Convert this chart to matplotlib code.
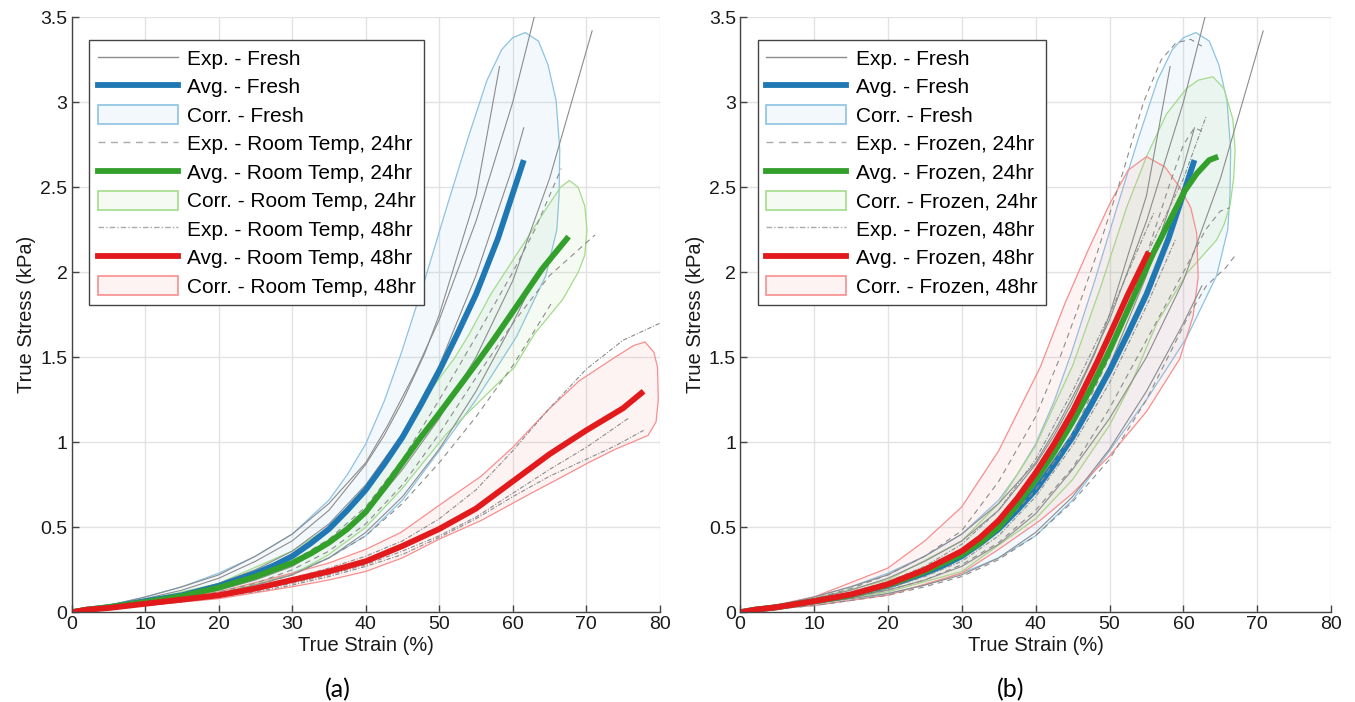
import matplotlib
matplotlib.use('Agg')
import matplotlib.pyplot as plt
from matplotlib.colors import to_rgba
from matplotlib.lines import Line2D
from matplotlib.patches import Patch

plt.rcParams['font.family'] = ['Liberation Sans', 'DejaVu Sans']

# ---------------- data ----------------
# experimental curves, fresh (shown in both panels)
exp_fresh = [
    ([0, 5, 10, 15, 20, 25, 30, 35, 40, 42.5, 45, 48, 50, 55, 58.2],
     [0, 0.035, 0.08, 0.13, 0.20, 0.30, 0.42, 0.60, 0.87, 1.04, 1.24, 1.52, 1.75, 2.45, 3.21]),
    ([0, 5, 10, 15, 20, 25, 30, 35, 40, 43, 46.6, 50, 55, 60, 63.5],
     [0, 0.04, 0.09, 0.15, 0.22, 0.33, 0.46, 0.64, 0.88, 1.10, 1.40, 1.72, 2.3, 3.0, 3.6]),
    ([0, 5, 10, 15, 20, 25, 30, 35, 40, 45, 50, 55, 60, 65, 70.8],
     [0, 0.03, 0.06, 0.09, 0.13, 0.19, 0.27, 0.40, 0.58, 0.84, 1.14, 1.50, 1.95, 2.55, 3.42]),
    ([0, 5, 10, 15, 20, 25, 30, 35, 40, 45, 50, 55, 60, 61.5],
     [0, 0.035, 0.07, 0.11, 0.17, 0.25, 0.36, 0.52, 0.75, 1.05, 1.45, 1.98, 2.62, 2.85]),
    ([0, 5, 10, 15, 20, 25, 30, 35, 40, 45, 50, 55, 60, 62.5],
     [0, 0.025, 0.05, 0.08, 0.11, 0.16, 0.22, 0.32, 0.47, 0.68, 0.96, 1.30, 1.70, 1.92]),
]
avg_fresh_x = [0, 2, 5, 10, 15, 20, 25, 27.5, 30, 32.5, 35, 37.5, 40, 42.5, 45, 47.5, 50, 52.5, 55, 58, 61.5]
avg_fresh_y = [0, 0.015, 0.03, 0.065, 0.10, 0.155, 0.23, 0.275, 0.33, 0.405, 0.49, 0.60, 0.72, 0.87, 1.03,
               1.22, 1.42, 1.64, 1.87, 2.2, 2.66]
corr_fresh_up_x = [0, 5, 10, 15, 20, 25, 30, 35, 37.5, 40, 42.5, 44.8, 48, 51, 54, 56.5, 58.5, 60, 61.7,
                   63.5, 64.8, 65.9, 66.4, 66.3, 66.0]
corr_fresh_up_y = [0, 0.04, 0.09, 0.15, 0.23, 0.33, 0.46, 0.66, 0.81, 0.99, 1.24, 1.52, 1.95, 2.38, 2.8, 3.13,
                   3.31, 3.38, 3.41, 3.36, 3.22, 3.01, 2.72, 2.45, 2.25]
corr_fresh_lo_x = [0, 5, 10, 15, 20, 25, 30, 35, 40, 45, 50, 55, 58, 60.5, 62.5, 64.5, 66.0]
corr_fresh_lo_y = [0, 0.02, 0.04, 0.07, 0.11, 0.16, 0.23, 0.32, 0.45, 0.66, 0.95, 1.25, 1.45, 1.62, 1.80, 1.98, 2.25]

# (a) room temperature, 24 hr
exp_rt24 = [
    ([0, 5, 10, 15, 20, 25, 30, 35, 40, 45, 50, 55, 60, 63, 66.6],
     [0, 0.03, 0.06, 0.10, 0.14, 0.21, 0.30, 0.43, 0.62, 0.90, 1.25, 1.62, 2.0, 2.25, 2.61]),
    ([0, 5, 10, 15, 20, 25, 30, 35, 40, 45, 50, 55, 60, 65, 71.2],
     [0, 0.025, 0.05, 0.08, 0.12, 0.17, 0.25, 0.36, 0.52, 0.75, 1.05, 1.38, 1.70, 1.98, 2.22]),
    ([0, 5, 10, 15, 20, 25, 30, 35, 40, 45, 50, 55, 60, 65.3],
     [0, 0.025, 0.05, 0.075, 0.11, 0.16, 0.22, 0.32, 0.45, 0.64, 0.88, 1.15, 1.45, 1.82]),
]
avg_rt24_x = [0, 2, 5, 10, 15, 20, 25, 30, 32.5, 35, 37.5, 40, 42.5, 45, 47.5, 50, 55, 57.5, 61, 64, 67.6]
avg_rt24_y = [0, 0.015, 0.03, 0.06, 0.095, 0.145, 0.21, 0.29, 0.345, 0.41, 0.49, 0.59, 0.73, 0.88, 1.03, 1.17,
              1.46, 1.61, 1.83, 2.02, 2.21]
corr_rt24_up_x = [0, 10, 20, 30, 35, 40, 44.8, 48, 52, 54, 57, 61.2, 64.8, 66.5, 67.7, 68.9, 69.8, 70.1, 69.8, 68.9]
corr_rt24_up_y = [0, 0.07, 0.17, 0.36, 0.50, 0.72, 1.02, 1.26, 1.49, 1.63, 1.87, 2.15, 2.39, 2.50, 2.54, 2.50,
                  2.39, 2.25, 2.10, 2.00]
corr_rt24_lo_x = [0, 10, 20, 30, 35, 40, 44.8, 51, 55.7, 60.2, 63, 66.8, 68.9]
corr_rt24_lo_y = [0, 0.05, 0.11, 0.22, 0.34, 0.50, 0.72, 1.05, 1.25, 1.44, 1.64, 1.84, 2.00]

# (a) room temperature, 48 hr
exp_rt48 = [
    ([0, 5, 10, 15, 20, 25, 30, 35, 40, 45, 50, 55, 60, 65, 70, 75, 80, 82],
     [0, 0.025, 0.05, 0.08, 0.11, 0.15, 0.20, 0.26, 0.33, 0.42, 0.55, 0.72, 0.95, 1.2, 1.43, 1.60, 1.70, 1.73]),
    ([0, 5, 10, 15, 20, 25, 30, 35, 40, 45, 50, 55, 60, 65, 70, 75.7],
     [0, 0.02, 0.04, 0.065, 0.09, 0.13, 0.17, 0.22, 0.28, 0.36, 0.45, 0.56, 0.70, 0.84, 0.97, 1.14]),
    ([0, 5, 10, 15, 20, 25, 30, 35, 40, 45, 50, 55, 60, 65, 70, 74, 77.8],
     [0, 0.02, 0.04, 0.06, 0.09, 0.12, 0.16, 0.21, 0.27, 0.34, 0.44, 0.55, 0.68, 0.80, 0.90, 0.98, 1.07]),
]
avg_rt48_x = [0, 2, 5, 10, 15, 20, 25, 30, 35, 40, 45, 50, 55, 57.5, 60, 65, 70, 75, 77.8]
avg_rt48_y = [0, 0.015, 0.025, 0.05, 0.075, 0.10, 0.14, 0.19, 0.24, 0.30, 0.39, 0.49, 0.61, 0.69, 0.77, 0.93,
              1.07, 1.20, 1.30]
corr_rt48_up_x = [0, 10, 20, 30, 35, 40, 44.8, 51, 55.7, 60, 64.8, 69, 73.9, 76.5, 78, 79.2, 79.7, 79.8, 79.5, 78.4]
corr_rt48_up_y = [0, 0.06, 0.12, 0.23, 0.29, 0.37, 0.47, 0.66, 0.80, 0.97, 1.19, 1.36, 1.50, 1.57, 1.59, 1.53,
                  1.44, 1.25, 1.12, 1.04]
corr_rt48_lo_x = [0, 10, 20, 30, 35, 40, 45, 50, 55.7, 62.5, 66, 70.3, 74, 78.4]
corr_rt48_lo_y = [0, 0.04, 0.08, 0.15, 0.19, 0.24, 0.32, 0.43, 0.54, 0.70, 0.78, 0.88, 0.96, 1.04]

# (b) frozen, 24 hr
exp_fz24 = [
    ([0, 5, 10, 15, 20, 25, 30, 35, 40, 43.3, 45.5, 48.3, 51.9, 54.6, 57, 59, 61, 62.5],
     [0, 0.04, 0.08, 0.14, 0.22, 0.33, 0.48, 0.77, 1.15, 1.50, 1.76, 2.11, 2.60, 3.00, 3.25, 3.35, 3.37, 3.33]),
    ([0, 5, 10, 15, 20, 25, 30, 35, 40, 45, 50, 55, 58, 60, 61.5, 62.5],
     [0, 0.03, 0.06, 0.10, 0.15, 0.23, 0.33, 0.49, 0.72, 1.05, 1.5, 2.1, 2.5, 2.75, 2.85, 2.83]),
    ([0, 5, 10, 15, 20, 25, 30, 35, 40, 45, 50, 55, 60, 63, 65, 66.3],
     [0, 0.025, 0.05, 0.085, 0.13, 0.19, 0.28, 0.41, 0.6, 0.85, 1.2, 1.6, 2.0, 2.25, 2.36, 2.38]),
    ([0, 5, 10, 15, 20, 25, 30, 35, 40, 45, 50, 55, 58.6, 60.4, 63.1, 65.8, 67.2],
     [0, 0.02, 0.04, 0.07, 0.10, 0.15, 0.21, 0.31, 0.45, 0.65, 0.90, 1.25, 1.56, 1.72, 1.92, 2.03, 2.11]),
]
avg_fz24_x = [0, 2, 5, 10, 15, 20, 25, 30, 32.5, 35, 37.5, 40, 42.5, 45, 47.5, 50, 55.9, 60.2, 61.8, 63.5, 64.7]
avg_fz24_y = [0, 0.015, 0.03, 0.065, 0.10, 0.16, 0.24, 0.34, 0.41, 0.50, 0.63, 0.78, 0.94, 1.12, 1.32, 1.54,
              2.11, 2.48, 2.58, 2.66, 2.68]
corr_fz24_up_x = [0, 10, 20, 30, 35, 40, 45, 48.7, 52.3, 55, 57.7, 60.4, 62, 64, 65.5, 66.7, 67.0, 66.8, 66.3,
                  65.5, 64.5]
corr_fz24_up_y = [0, 0.08, 0.19, 0.42, 0.64, 0.98, 1.45, 1.90, 2.38, 2.68, 2.93, 3.08, 3.13, 3.15, 3.08, 2.90,
                  2.72, 2.55, 2.39, 2.28, 2.19]
corr_fz24_lo_x = [0, 10, 20, 30, 40, 45, 50, 53, 56.4, 60.4, 64.5]
corr_fz24_lo_y = [0, 0.05, 0.12, 0.24, 0.55, 0.78, 1.10, 1.35, 1.70, 1.99, 2.19]

# (b) frozen, 48 hr
exp_fz48 = [
    ([0, 5, 10, 15, 20, 25, 30, 35, 40, 45, 50, 55, 60, 63.1],
     [0, 0.03, 0.06, 0.10, 0.16, 0.24, 0.36, 0.54, 0.80, 1.15, 1.6, 2.1, 2.55, 2.92]),
    ([0, 5, 10, 15, 20, 25, 30, 35, 40, 45, 50, 53, 56],
     [0, 0.035, 0.07, 0.12, 0.18, 0.27, 0.40, 0.60, 0.90, 1.3, 1.75, 2.05, 2.35]),
    ([0, 5, 10, 15, 20, 25, 30, 35, 40, 45, 50, 55, 59],
     [0, 0.03, 0.06, 0.09, 0.14, 0.21, 0.30, 0.45, 0.68, 0.98, 1.35, 1.8, 2.2]),
]
avg_fz48_x = [0, 2, 5, 10, 15, 20, 25, 30, 32.5, 35, 37.5, 40, 42.5, 45, 48.3, 50, 52.5, 55.3]
avg_fz48_y = [0, 0.015, 0.03, 0.065, 0.105, 0.165, 0.25, 0.36, 0.44, 0.54, 0.67, 0.82, 0.99, 1.18, 1.47, 1.63,
              1.87, 2.12]
corr_fz48_up_x = [0, 10, 20, 25, 30, 35, 40.6, 44, 47, 50, 52.5, 55, 57.5, 59.5, 61, 61.8, 62, 61.3, 59.5]
corr_fz48_up_y = [0, 0.09, 0.26, 0.42, 0.62, 0.95, 1.44, 1.82, 2.12, 2.40, 2.60, 2.68, 2.62, 2.50, 2.38, 2.23,
                  1.97, 1.74, 1.49]
corr_fz48_lo_x = [0, 10, 20, 30, 35, 40.6, 45, 50, 55, 59.5]
corr_fz48_lo_y = [0, 0.04, 0.10, 0.23, 0.37, 0.54, 0.70, 0.92, 1.18, 1.49]

x_ticks = [0, 10, 20, 30, 40, 50, 60, 70, 80]
y_ticks = [0, 0.5, 1, 1.5, 2, 2.5, 3, 3.5]
y_tick_labels = ['0', '0.5', '1', '1.5', '2', '2.5', '3', '3.5']

# ---------------- styling ----------------
c_blue, c_blue_l = '#1f78b4', '#8cc3e3'
c_green, c_green_l = '#33a02c', '#a3dc8a'
c_red, c_red_l = '#e31a1c', '#f88e8d'
c_exp = '#8c8c8c'
styles = {'solid': '-', 'dash': (0, (5, 4)), 'dashdot': (0, (4, 1.5, 1, 1.5))}


def draw_group(ax, exps, ls, av_x, av_y, col, up_x, up_y, lo_x, lo_y, lcol):
    for xs, ys in exps:
        ax.plot(xs, ys, color=c_exp, lw=0.8, linestyle=styles[ls])
    ax.plot(av_x, av_y, color=col, lw=4.2, solid_capstyle='butt', solid_joinstyle='round')
    px = list(up_x) + list(lo_x[::-1][1:])
    py = list(up_y) + list(lo_y[::-1][1:])
    ax.fill(px, py, facecolor=to_rgba(lcol, 0.1), edgecolor=lcol, lw=0.9)


def legend_handles(names):
    h = []
    for ls, col, lcol in [('solid', c_blue, c_blue_l), ('dash', c_green, c_green_l), ('dashdot', c_red, c_red_l)]:
        h.append(Line2D([], [], color=c_exp if ls == 'solid' else '#aaaaaa', lw=1.0, linestyle=styles[ls]))
        h.append(Line2D([], [], color=col, lw=4.2))
        h.append(Patch(facecolor=to_rgba(lcol, 0.1), edgecolor=lcol, lw=1.2))
    labels = []
    for n in names:
        labels += ['Exp. - ' + n, 'Avg. - ' + n, 'Corr. - ' + n]
    return h, labels


fig = plt.figure(figsize=(13.55, 7.02), dpi=100)
ax1 = fig.add_axes([0.0529, 0.1278, 0.4340, 0.8476])
ax2 = fig.add_axes([0.5462, 0.1278, 0.4362, 0.8476])

draw_group(ax1, exp_fresh, 'solid', avg_fresh_x, avg_fresh_y, c_blue,
           corr_fresh_up_x, corr_fresh_up_y, corr_fresh_lo_x, corr_fresh_lo_y, c_blue_l)
draw_group(ax1, exp_rt24, 'dash', avg_rt24_x, avg_rt24_y, c_green,
           corr_rt24_up_x, corr_rt24_up_y, corr_rt24_lo_x, corr_rt24_lo_y, c_green_l)
draw_group(ax1, exp_rt48, 'dashdot', avg_rt48_x, avg_rt48_y, c_red,
           corr_rt48_up_x, corr_rt48_up_y, corr_rt48_lo_x, corr_rt48_lo_y, c_red_l)

draw_group(ax2, exp_fresh, 'solid', avg_fresh_x, avg_fresh_y, c_blue,
           corr_fresh_up_x, corr_fresh_up_y, corr_fresh_lo_x, corr_fresh_lo_y, c_blue_l)
draw_group(ax2, exp_fz24, 'dash', avg_fz24_x, avg_fz24_y, c_green,
           corr_fz24_up_x, corr_fz24_up_y, corr_fz24_lo_x, corr_fz24_lo_y, c_green_l)
draw_group(ax2, exp_fz48, 'dashdot', avg_fz48_x, avg_fz48_y, c_red,
           corr_fz48_up_x, corr_fz48_up_y, corr_fz48_lo_x, corr_fz48_lo_y, c_red_l)

for ax, names in [(ax1, ['Fresh', 'Room Temp, 24hr', 'Room Temp, 48hr']),
                  (ax2, ['Fresh', 'Frozen, 24hr', 'Frozen, 48hr'])]:
    ax.set_xlim(0, 80)
    ax.set_ylim(0, 3.5)
    ax.set_xticks(x_ticks)
    ax.set_yticks(y_ticks)
    ax.set_yticklabels(y_tick_labels)
    ax.grid(True, color='#e2e2e2', lw=1.0)
    ax.set_axisbelow(True)
    for s in ['top', 'right']:
        ax.spines[s].set_visible(False)
    for s in ['left', 'bottom']:
        ax.spines[s].set_color('#444444')
        ax.spines[s].set_linewidth(1.0)
    ax.tick_params(direction='in', length=5, width=1, color='#444444', labelsize=14, pad=3,
                   labelcolor='#1a1a1a')
    ax.set_xlabel('True Strain (%)', fontsize=14.5, color='#1a1a1a', labelpad=2)
    ax.set_ylabel('True Stress (kPa)', fontsize=14.5, color='#1a1a1a', labelpad=3)
    h, l = legend_handles(names)
    leg = ax.legend(h, l, loc='upper left', bbox_to_anchor=(0.03, 0.962), fontsize=15,
                    handlelength=3.85, handleheight=1.05, labelspacing=0.37, borderpad=0.4,
                    handletextpad=0.45, fancybox=False, framealpha=1, borderaxespad=0)
    leg.get_frame().set_edgecolor('#444444')
    leg.get_frame().set_linewidth(1.0)

fig.text(0.2495, 0.006, '(a)', fontsize=18, ha='center', family=['Lato', 'DejaVu Sans'])
fig.text(0.7455, 0.006, '(b)', fontsize=18, ha='center', family=['Lato', 'DejaVu Sans'])

fig.savefig('out.png', dpi=100)
